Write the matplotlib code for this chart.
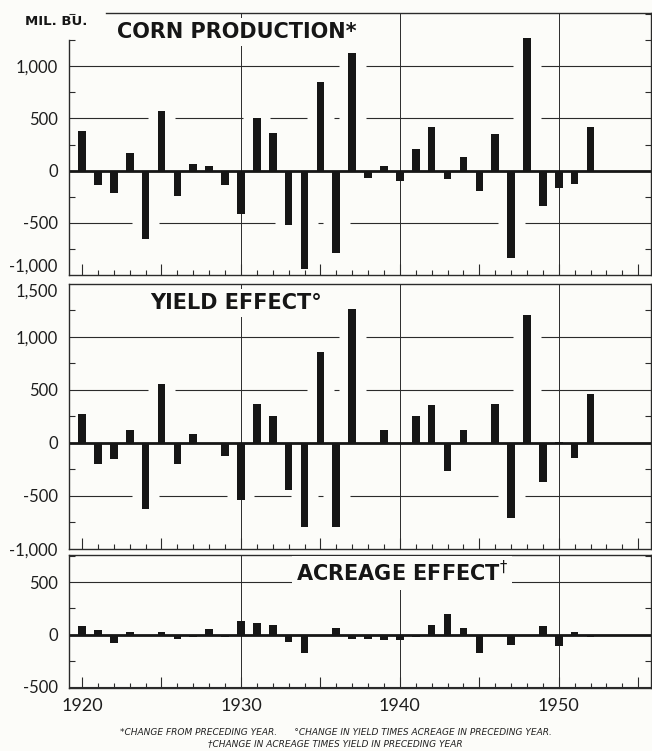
import matplotlib.pyplot as plt
from matplotlib.ticker import FuncFormatter, MultipleLocator

# year-to-year changes, million bushels
years = list(range(1920, 1953))
corn_production = [380, -140, -210, 170, -655, 575, -245, 60, 45, -140,
                   -420, 500, 365, -520, -940, 845, -785, 1130, -75, 40,
                   -100, 210, 420, -80, 130, -195, 355, -840, 1270, -335,
                   -170, -130, 420]
yield_effect = [275, -200, -150, 125, -620, 555, -200, 85, 0, -125,
                -535, 370, 250, -440, -790, 860, -795, 1260, -10, 120,
                -10, 255, 358, -260, 123, 0, 372, -710, 1205, -370,
                10, -145, 460]
acreage_effect = [85, 47, -78, 22, -15, 28, -40, -20, 53, -25,
                  128, 115, 90, -70, -178, 0, 60, -45, -45, -47,
                  -53, -22, 88, 200, 62, -178, 0, -103, 0, 85,
                  -110, 25, -20]

titles = ["CORN PRODUCTION*", "YIELD EFFECT\u00b0", r"ACREAGE EFFECT$^{\dag}$"]
top_ticks = [-1000, -500, 0, 500, 1000]
mid_ticks = [-1000, -500, 0, 500, 1000, 1500]
bot_ticks = [-500, 0, 500]
decade_labels = ["1920", "", "1930", "", "1940", "", "1950", ""]
footnote_1 = "*CHANGE FROM PRECEDING YEAR.      \u00b0CHANGE IN YIELD TIMES ACREAGE IN PRECEDING YEAR."
footnote_2 = "\u2020CHANGE IN ACREAGE TIMES YIELD IN PRECEDING YEAR"

INK = "#161616"
LINE = "#2b2b2b"
PAPER = "#fcfcf9"

plt.rcParams["font.family"] = ["Lato", "DejaVu Sans"]

fig = plt.figure(figsize=(6.52, 7.51), dpi=100, facecolor=PAPER)

# panel boxes in figure fractions: left, bottom, width, height
left, width = 0.1058, 0.8926
ax_top = fig.add_axes([left, 0.6338, width, 0.3489])
ax_mid = fig.add_axes([left, 0.2690, width, 0.3529])
ax_bot = fig.add_axes([left, 0.0839, width, 0.1771])

panels = [
    (ax_top, corn_production, (-1000, 1510), top_ticks, titles[0], (0.0825, 0.927)),
    (ax_mid, yield_effect, (-1000, 1500), mid_ticks, titles[1], (0.139, 0.928)),
    (ax_bot, acreage_effect, (-510, 760), bot_ticks, titles[2], (0.39, 0.865)),
]


def fmt_thousands(v, pos):
    s = "{:,.0f}".format(abs(v))
    return ("-" if v < 0 else "") + s


def gapped_gridline(ax, level, values, xlim):
    # break the horizontal rule wherever a bar passes through it
    gaps = []
    for yr, v in zip(years, values):
        if v * level > 0 and abs(v) >= abs(level) - 20:
            gaps.append((yr - 0.85, yr + 0.85))
    start = xlim[0]
    for g0, g1 in gaps:
        if g0 > start:
            ax.hlines(level, start, g0, color=LINE, lw=0.8, zorder=1)
        start = max(start, g1)
    if start < xlim[1]:
        ax.hlines(level, start, xlim[1], color=LINE, lw=0.8, zorder=1)


xlim = (1919.18, 1955.8)

for ax, values, ylim, yticks, title, tpos in panels:
    ax.set_facecolor(PAPER)
    ax.set_xlim(*xlim)
    ax.set_ylim(*ylim)

    ax.bar(years, values, width=0.48, color=INK, zorder=3)
    ax.axhline(0, color=INK, lw=2.0, zorder=2)

    for level in (-1000, -500, 500, 1000):
        if ylim[0] < level < ylim[1]:
            gapped_gridline(ax, level, values, xlim)
    for yr in (1930, 1940, 1950):
        ax.axvline(yr, color=LINE, lw=0.7, zorder=1)

    for sp in ax.spines.values():
        sp.set_color(LINE)
        sp.set_linewidth(1.0)

    ax.set_yticks(yticks)
    ax.yaxis.set_minor_locator(MultipleLocator(250))
    ax.yaxis.set_major_formatter(FuncFormatter(fmt_thousands))
    ax.tick_params(axis="y", which="major", length=0, pad=8,
                   labelsize=12, labelcolor="#1e1e1e")
    ax.tick_params(axis="y", which="minor", direction="in", length=4,
                   width=0.8, color=LINE, left=True, right=True)

    ax.set_xticks(range(1920, 1960, 5))
    ax.xaxis.set_minor_locator(MultipleLocator(1))
    ax.tick_params(axis="x", which="major", direction="in", length=8,
                   width=0.8, color=LINE, pad=7, labelsize=13,
                   labelcolor="#1e1e1e")
    ax.tick_params(axis="x", which="minor", direction="in", length=3.5,
                   width=0.8, color=LINE)
    if ax is ax_bot:
        ax.set_xticklabels(decade_labels)
    else:
        ax.set_xticklabels([])

    ax.text(tpos[0], tpos[1], title, transform=ax.transAxes,
            family="DejaVu Sans", fontsize=15, fontweight="bold",
            color=INK, ha="left", va="center", zorder=5,
            bbox=dict(boxstyle="square,pad=0.2", fc=PAPER, ec="none"))

# keep the stacked edge labels apart
ax_top.yaxis.get_major_ticks()[0].label1.set_verticalalignment("bottom")
ax_mid.yaxis.get_major_ticks()[-1].label1.set_verticalalignment("top")

# open corner above the top panel for the unit label
ax_top.spines["left"].set_bounds(-1000, 1254)
ax_top.spines["top"].set_bounds(1921.5, xlim[1])
fig.text(0.038, 0.972, "MIL. BU.", family="DejaVu Sans", fontsize=9.5,
         fontweight="bold", color=INK, ha="left", va="center")

fig.text(0.515, 0.024, footnote_1, family="DejaVu Sans", style="italic",
         fontsize=6.5, color="#222222", ha="center", va="center")
fig.text(0.515, 0.0093, footnote_2, family="DejaVu Sans", style="italic",
         fontsize=6.5, color="#222222", ha="center", va="center")

fig.savefig("out.png", dpi=100, facecolor=PAPER)
